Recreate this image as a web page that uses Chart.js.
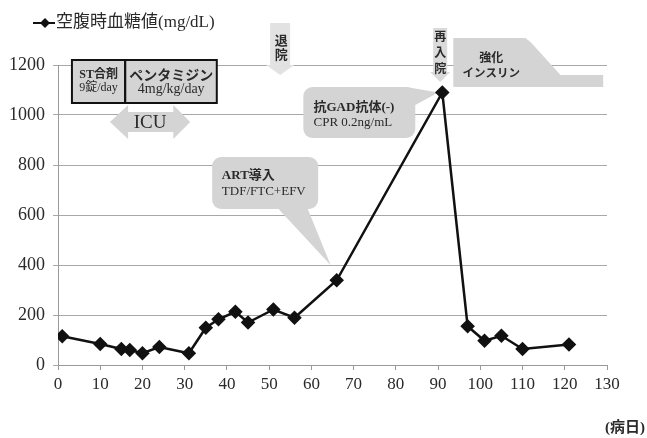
<!DOCTYPE html>
<html>
<head>
<meta charset="utf-8">
<script src="https://cdn.jsdelivr.net/npm/chart.js@4/dist/chart.umd.min.js"></script>
<style>
  html, body { margin: 0; padding: 0; background: #fff; }
  #wrap { width: 647px; height: 438px; }
</style>
</head>
<body>
<div id="wrap"><canvas id="glucoseChart"></canvas></div>
<script>
// data
const days = [1, 10, 15, 17, 20, 24, 31, 35, 38, 42, 45, 51, 56, 66, 91, 97, 101, 105, 110, 121];
const glucose = [115, 84, 64, 60, 47, 72, 47, 149, 183, 213, 170, 222, 189, 339, 1090, 155, 97, 117, 64, 82];
const xTicks = [0, 10, 20, 30, 40, 50, 60, 70, 80, 90, 100, 110, 120, 130];
const yTicks = [0, 200, 400, 600, 800, 1000, 1200];
const seriesLabel = "空腹時血糖値(mg/dL)";
const xTitle = "(病日)";

const FONT = "'Liberation Serif', 'Noto Sans CJK JP', serif";
const GOTH = "'Noto Sans CJK JP', sans-serif";
const GRAY = "#d4d4d4";
const INK = "#2a2a2a";

function txt(ctx, s, x, y, size, opts) {
  opts = opts || {};
  ctx.save();
  ctx.fillStyle = opts.color || INK;
  ctx.font = (opts.weight || "normal") + " " + size + "px " + (opts.family || FONT);
  ctx.textAlign = opts.align || "center";
  ctx.textBaseline = "middle";
  ctx.fillText(s, x, y);
  ctx.restore();
}

function poly(ctx, pts, fill) {
  ctx.beginPath();
  pts.forEach((p, i) => (i ? ctx.lineTo(p[0], p[1]) : ctx.moveTo(p[0], p[1])));
  ctx.closePath();
  ctx.fillStyle = fill;
  ctx.fill();
}

function roundBox(ctx, x0, y0, x1, y1, r) {
  ctx.moveTo(x0 + r, y0);
  ctx.arcTo(x1, y0, x1, y1, r);
  ctx.arcTo(x1, y1, x0, y1, r);
  ctx.arcTo(x0, y1, x0, y0, r);
  ctx.arcTo(x0, y0, x1, y0, r);
  ctx.closePath();
}

const notes = {
  id: "notes",
  beforeDatasetsDraw(chart) {
    const { ctx, scales } = chart;
    const X = (d) => scales.x.getPixelForValue(d);
    const Y = (v) => scales.y.getPixelForValue(v);
    const pts = chart.getDatasetMeta(0).data;

    ctx.save();
    // drug boxes
    ctx.fillStyle = GRAY;
    ctx.strokeStyle = "#111";
    ctx.lineWidth = 2;
    ctx.fillRect(X(3.3), Y(1220), X(37.6) - X(3.3), Y(1048) - Y(1220));
    ctx.strokeRect(X(3.3), Y(1220), X(15.9) - X(3.3), Y(1048) - Y(1220));
    ctx.strokeRect(X(15.9), Y(1220), X(37.6) - X(15.9), Y(1048) - Y(1220));
    txt(ctx, "ST合剤", X(9.6), Y(1160), 12, { weight: "bold" });
    txt(ctx, "9錠/day", X(9.6), Y(1107), 12);
    txt(ctx, "ペンタミジン", X(26.8), Y(1160), 14, { weight: "bold", family: GOTH });
    txt(ctx, "4mg/kg/day", X(26.8), Y(1104), 14);

    // ICU double arrow
    const cy = Y(972);
    poly(ctx, [
      [X(12.3), cy], [X(16.6), cy - 17], [X(16.6), cy - 10], [X(27.3), cy - 10],
      [X(27.3), cy - 17], [X(31.3), cy], [X(27.3), cy + 17], [X(27.3), cy + 10],
      [X(16.6), cy + 10], [X(16.6), cy + 17]
    ], GRAY);
    txt(ctx, "ICU", X(21.8), cy + 1, 19);

    // discharge arrow
    let cx = X(52.6);
    poly(ctx, [
      [cx - 10, Y(1368)], [cx + 10, Y(1368)], [cx + 10, Y(1200)], [cx + 14, Y(1200)],
      [cx, Y(1160)], [cx - 14, Y(1200)], [cx - 10, Y(1200)]
    ], "#e2e2e2");
    txt(ctx, "退", cx + 1, 40, 13, { weight: "bold", family: GOTH });
    txt(ctx, "院", cx + 1, 54, 13, { weight: "bold", family: GOTH });

    // readmission arrow
    cx = X(90.5);
    poly(ctx, [
      [cx - 7, Y(1348)], [cx + 7, Y(1348)], [cx + 7, Y(1172)], [cx + 10, Y(1172)],
      [cx, Y(1132)], [cx - 10, Y(1172)], [cx - 7, Y(1172)]
    ], "#dadada");
    txt(ctx, "再", cx, 36, 12, { weight: "bold", family: GOTH });
    txt(ctx, "入", cx, 52, 12, { weight: "bold", family: GOTH });
    txt(ctx, "院", cx, 68, 12, { weight: "bold", family: GOTH });

    // intensive insulin
    poly(ctx, [
      [X(93.6), Y(1308)], [X(110.7), Y(1308)], [X(112), Y(1290)], [X(119), Y(1160)],
      [X(129.1), Y(1160)], [X(129.1), Y(1112)], [X(93.6), Y(1112)]
    ], GRAY);
    txt(ctx, "強化", X(102.6), Y(1230), 12, { weight: "bold", family: GOTH });
    txt(ctx, "インスリン", X(102.6), Y(1170), 11.5, { weight: "bold", family: GOTH });

    // anti-GAD callout
    const peak = pts[14];
    ctx.beginPath();
    roundBox(ctx, X(58.1), Y(1112), X(84.6), Y(908), 9);
    ctx.fillStyle = GRAY;
    ctx.fill();
    poly(ctx, [[X(82.5), Y(1112)], [peak.x - 4, peak.y], [X(84.6), Y(1040)]], GRAY);
    txt(ctx, "抗GAD抗体(-)", X(60.5), Y(1028), 13, { align: "left", weight: "bold" });
    txt(ctx, "CPR 0.2ng/mL", X(60.5), Y(968), 13, { align: "left" });

    // ART callout
    const art = pts[13];
    ctx.beginPath();
    roundBox(ctx, X(36.5), Y(832), X(61.6), Y(624), 9);
    ctx.fillStyle = GRAY;
    ctx.fill();
    poly(ctx, [[X(51.9), Y(630)], [art.x - 6, art.y - 15], [X(59), Y(630)]], GRAY);
    txt(ctx, "ART導入", X(38.8), Y(756), 13, { align: "left", weight: "bold" });
    txt(ctx, "TDF/FTC+EFV", X(38.8), Y(692), 13, { align: "left" });
    ctx.restore();
  },
  afterDraw(chart) {
    const { ctx } = chart;
    // legend
    ctx.save();
    ctx.strokeStyle = "#111";
    ctx.lineWidth = 2;
    ctx.beginPath();
    ctx.moveTo(33, 23);
    ctx.lineTo(55, 23);
    ctx.stroke();
    poly(ctx, [[45, 18], [50, 23], [45, 28], [40, 23]], "#111");
    ctx.restore();
    txt(ctx, seriesLabel, 56, 23, 17, { align: "left" });
    txt(ctx, xTitle, 645, 428, 15, { align: "right", weight: "bold" });
  }
};

new Chart(document.getElementById("glucoseChart"), {
  type: "line",
  data: {
    datasets: [{
      label: seriesLabel,
      data: days.map((d, i) => ({ x: d, y: glucose[i] })),
      borderColor: "#111",
      backgroundColor: "#111",
      borderWidth: 2.5,
      pointStyle: "rectRot",
      pointRadius: 5.5,
      pointHoverRadius: 5.5,
      tension: 0,
      fill: false
    }]
  },
  options: {
    responsive: true,
    maintainAspectRatio: false,
    animation: false,
    layout: { padding: { top: 65, right: 40, left: 0, bottom: 0 } },
    plugins: { legend: { display: false }, tooltip: { enabled: false } },
    scales: {
      x: {
        type: "linear",
        min: 0,
        max: 130,
        afterFit: (s) => { s.height = 73; },
        afterBuildTicks: (s) => { s.ticks = xTicks.map((v) => ({ value: v })); },
        grid: { drawOnChartArea: false, drawTicks: true, tickLength: 5, color: "#999" },
        border: { color: "#999", width: 1 },
        ticks: {
          padding: 4, color: INK, font: { family: FONT, size: 17 }, maxRotation: 0,
          callback: (v) => String(v)
        }
      },
      y: {
        min: 0,
        max: 1200,
        afterFit: (s) => { s.width = 58; },
        afterBuildTicks: (s) => { s.ticks = yTicks.map((v) => ({ value: v })); },
        grid: { color: "#a8a8a8", tickLength: 5 },
        border: { color: "#999", width: 1 },
        ticks: {
          padding: 8, color: INK, font: { family: FONT, size: 18 },
          callback: (v) => String(v)
        }
      }
    }
  },
  plugins: [notes]
});
</script>
</body>
</html>
